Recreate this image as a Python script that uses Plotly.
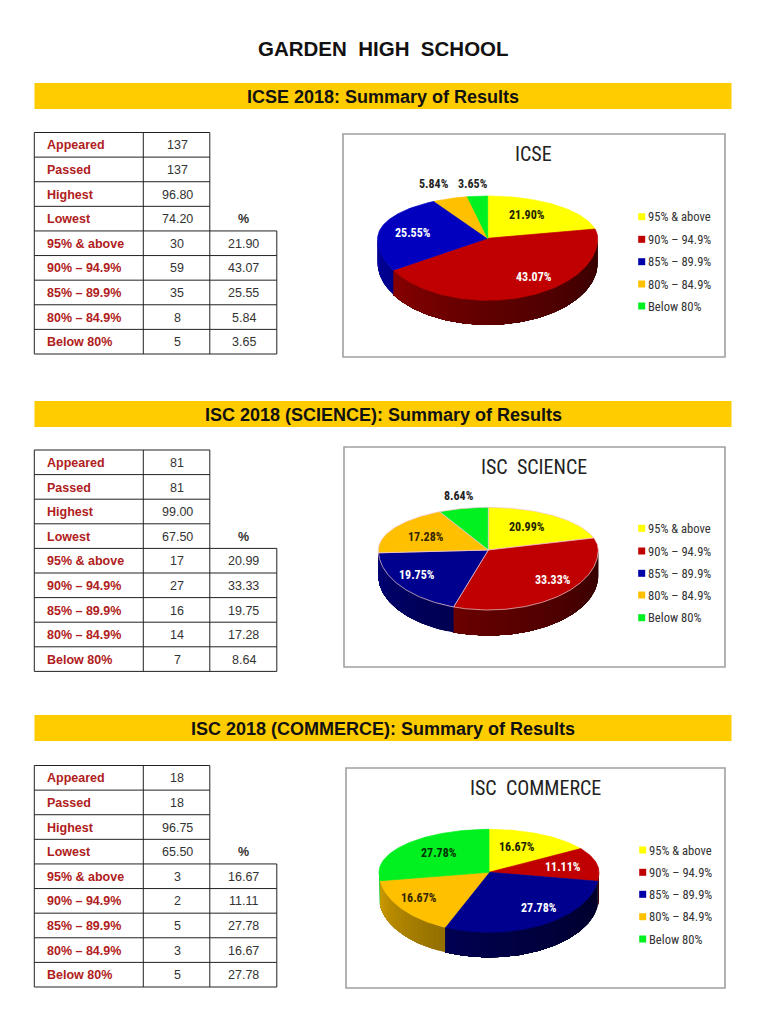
import numpy as np
import plotly.graph_objects as go

# ---------- data ----------
PAGE_TITLE = "GARDEN\u00a0\u00a0HIGH\u00a0\u00a0SCHOOL"
SUMMARY_LABELS = ["Appeared", "Passed", "Highest", "Lowest"]
BAND_LABELS = ["95% & above", "90% \u2013 94.9%", "85% \u2013 89.9%", "80% \u2013 84.9%", "Below 80%"]

ICSE_HEADER = "ICSE 2018: Summary of Results"
ICSE_TITLE = "ICSE"
ICSE_SUMMARY = ["137", "137", "96.80", "74.20"]
ICSE_COUNTS = [30, 59, 35, 8, 5]
ICSE_PCT = [21.90, 43.07, 25.55, 5.84, 3.65]

SCI_HEADER = "ISC 2018 (SCIENCE): Summary of Results"
SCI_TITLE = "ISC\u00a0\u00a0SCIENCE"
SCI_SUMMARY = ["81", "81", "99.00", "67.50"]
SCI_COUNTS = [17, 27, 16, 14, 7]
SCI_PCT = [20.99, 33.33, 19.75, 17.28, 8.64]

COM_HEADER = "ISC 2018 (COMMERCE): Summary of Results"
COM_TITLE = "ISC\u00a0\u00a0COMMERCE"
COM_SUMMARY = ["18", "18", "96.75", "65.50"]
COM_COUNTS = [3, 2, 5, 3, 5]
COM_PCT = [16.67, 11.11, 27.78, 16.67, 27.78]

# ---------- layout and style ----------
SECTIONS = [
    dict(header=ICSE_HEADER, title=ICSE_TITLE, summary=ICSE_SUMMARY, counts=ICSE_COUNTS, pct=ICSE_PCT,
         band=(83, 109), table=(132.5, 354), frame=(343, 134, 725, 357), title_xy=(533, 154),
         centre=(487.7, 238.3), ry=(42.3, 62), depth=24.5, blue="#0000BE", edge=None,
         legend_y=[216.7, 239.3, 261.7, 284, 306], legend_x=641.7,
         label_xy=[(527.3, 215.3), (534.3, 277), (413, 233), (434.3, 184.3), (473, 183.7)],
         label_col=["#222200", "#FFFFFF", "#FFFFFF", "#222222", "#222222"]),
    dict(header=SCI_HEADER, title=SCI_TITLE, summary=SCI_SUMMARY, counts=SCI_COUNTS, pct=SCI_PCT,
         band=(401, 427), table=(450, 671.4), frame=(344, 447, 725, 667), title_xy=(534.3, 466.7),
         centre=(488.3, 550), ry=(42.7, 60), depth=25.5, blue="#00008F", edge="#F0C8D0",
         legend_y=[528.3, 551, 573.3, 595, 617.7], legend_x=641.7,
         label_xy=[(526.7, 527.3), (553.3, 579.7), (417.3, 575.3), (425.7, 536.7), (459.3, 495.7)],
         label_col=["#222200", "#FFFFFF", "#FFFFFF", "#332600", "#222222"]),
    dict(header=COM_HEADER, title=COM_TITLE, summary=COM_SUMMARY, counts=COM_COUNTS, pct=COM_PCT,
         band=(715, 741), table=(765.5, 987), frame=(346, 768, 725, 988), title_xy=(535, 787.7),
         centre=(489, 872.3), ry=(43, 60), depth=25, blue="#00008F", edge=None,
         legend_y=[850, 872.3, 894.3, 916.7, 939], legend_x=642.7,
         label_xy=[(517.3, 846.7), (563, 867.3), (538.7, 908.3), (419.3, 898.3), (439.3, 852.7)],
         label_col=["#222200", "#FFFFFF", "#FFFFFF", "#332600", "#003300"]),
]
RX = 110
SLICE_COLOURS = ["#FFFF00", "#C00000", None, "#FFC000", "#00F020"]
LEGEND_COLOURS = ["#FFFF00", "#C00000", "#0000A8", "#FFC000", "#00F020"]
BAND_FILL = "#FFCC00"
LABEL_RED = "#B02020"
CELL_TEXT = "#333333"
GRID = "#222222"
SANS = "Liberation Sans"
NARROW = "Roboto Condensed, Liberation Sans"
COLS = [34.3, 143.3, 209.8, 276.8]

fig = go.Figure()
shapes, notes = [], []


def note(x, y, text, size, color="#222222", bold=False, family=SANS, anchor="center"):
    notes.append(dict(x=x, y=y, xref="x", yref="y", text=f"<b>{text}</b>" if bold else text,
                      showarrow=False, xanchor=anchor, yanchor="middle",
                      font=dict(family=family, size=size, color=color)))


def hline(x0, x1, y):
    shapes.append(dict(type="line", x0=x0, x1=x1, y0=y, y1=y, xref="x", yref="y", line=dict(color=GRID, width=1)))


def vline(x, y0, y1):
    shapes.append(dict(type="line", x0=x, x1=x, y0=y0, y1=y1, xref="x", yref="y", line=dict(color=GRID, width=1)))


def warp(deg):
    """Perspective: slices at the front of the tilted pie look larger than those at the back."""
    deg = np.asarray(deg, float)
    k = np.where(deg > 180, 5.5, -4.0)
    return deg + k * np.abs(np.sin(np.radians(2 * deg)))


def ellipse(deg, cx, cy, ry, drop=0.0):
    """Clockwise angle from the top of the pie, with a nearer (taller) front half."""
    t = np.radians(warp(deg))
    s, c = np.sin(t), np.cos(t)
    y = np.where(c < 0, -c * ry[1], -c * ry[0])
    return cx + RX * s, cy + y + drop


def shade(hex_colour, theta_deg):
    f = np.interp(theta_deg, [90, 180, 270], [0.26, 0.50, 0.85])
    rgb = [int(hex_colour[i:i + 2], 16) for i in (1, 3, 5)]
    return "#%02X%02X%02X" % tuple(int(v * f) for v in rgb)


def draw_pie(sec):
    cx, cy = sec["centre"]
    ry = sec["ry"]
    counts = np.array(sec["counts"], float)
    edges = np.concatenate([[0], np.cumsum(counts) / counts.sum() * 360])
    colours = [c or sec["blue"] for c in SLICE_COLOURS]
    # side wall: each band runs to the slice end and is painted over the last, so it lightens without seams
    for i, col in enumerate(colours):
        a0, a1 = max(edges[i], 88), min(edges[i + 1], 272)
        if a1 <= a0:
            continue
        n = max(int((a1 - a0) / 3), 1)
        steps = np.linspace(a0, a1, n + 1)
        for s0, s1 in zip(steps[:-1], steps[1:]):
            t = np.linspace(s0, a1, max(int(a1 - s0), 2) + 1)
            xt, yt = ellipse(t, cx, cy, ry)
            xb, yb = ellipse(t, cx, cy, ry, sec["depth"])
            c = shade(col, (s0 + s1) / 2)
            fig.add_trace(go.Scatter(x=np.r_[xt, xb[::-1]], y=np.r_[yt, yb[::-1]], mode="lines", fill="toself",
                                     fillcolor=c, line=dict(color=c, width=0), hoverinfo="skip", showlegend=False))
    # top face
    for i, col in enumerate(colours):
        t = np.linspace(edges[i], edges[i + 1], max(int(edges[i + 1] - edges[i]), 2) + 1)
        xa, ya = ellipse(t, cx, cy, ry)
        line = sec["edge"] or col
        fig.add_trace(go.Scatter(x=np.r_[cx, xa, cx], y=np.r_[cy, ya, cy], mode="lines", fill="toself",
                                 fillcolor=col, line=dict(color=line, width=0.7), hoverinfo="text",
                                 text=BAND_LABELS[i], showlegend=False))
    for (x, y), p, c in zip(sec["label_xy"], sec["pct"], sec["label_col"]):
        note(x, y, f"{p:.2f}%", 12, c, True, NARROW)


def draw_table(sec):
    top, bottom = sec["table"]
    h = (bottom - top) / 9
    ys = [top + h * i for i in range(10)]
    for i, y in enumerate(ys):
        hline(COLS[0], COLS[3] if i >= 4 else COLS[2], y)
    for x in COLS[:3]:
        vline(x, top, bottom)
    vline(COLS[3], ys[4], bottom)
    for i, (lab, val) in enumerate(zip(SUMMARY_LABELS, sec["summary"])):
        y = ys[i] + h / 2 + 0.6
        note(45, y, lab, 12.5, LABEL_RED, True, anchor="left")
        note(177, y, val, 12.5, CELL_TEXT)
    note(243.5, ys[3] + h / 2 + 0.6, "%", 12.5, CELL_TEXT, True)
    for i, (lab, n, p) in enumerate(zip(BAND_LABELS, sec["counts"], sec["pct"])):
        y = ys[i + 4] + h / 2 + 0.6
        note(45, y, lab, 12.5, LABEL_RED, True, anchor="left")
        note(177, y, str(n), 12.5, CELL_TEXT)
        note(243.5, y, f"{p:.2f}", 12.5, CELL_TEXT)


for sec in SECTIONS:
    b0, b1 = sec["band"]
    shapes.append(dict(type="rect", x0=34.5, x1=731.5, y0=b0, y1=b1, xref="x", yref="y",
                       fillcolor=BAND_FILL, line=dict(width=0), layer="below"))
    note(383, (b0 + b1) / 2 + 0.7, sec["header"], 18, "#111111", True)
    x0, y0, x1, y1 = sec["frame"]
    shapes.append(dict(type="rect", x0=x0, x1=x1, y0=y0, y1=y1, xref="x", yref="y",
                       fillcolor="#FFFFFF", line=dict(color="#A0A0A0", width=1.6), layer="below"))
    note(*sec["title_xy"], sec["title"], 20, "#222222", False, NARROW)
    draw_table(sec)
    draw_pie(sec)
    fig.add_trace(go.Scatter(x=[sec["legend_x"]] * 5, y=sec["legend_y"], mode="markers",
                             marker=dict(symbol="square", size=7, color=LEGEND_COLOURS),
                             hoverinfo="skip", showlegend=False))
    for y, lab in zip(sec["legend_y"], BAND_LABELS):
        note(sec["legend_x"] + 4.5, y, lab, 12.6, "#333333", False, NARROW, "left")

note(383.5, 48.5, PAGE_TITLE, 20.5, "#111111", True)

fig.update_layout(
    width=768, height=1024, margin=dict(l=0, r=0, t=0, b=0),
    paper_bgcolor="#FFFFFF", plot_bgcolor="#FFFFFF", showlegend=False,
    xaxis=dict(range=[0, 768], visible=False, fixedrange=True),
    yaxis=dict(range=[1024, 0], visible=False, fixedrange=True),
    shapes=shapes, annotations=notes,
)
fig.write_html("out.html", config=dict(displayModeBar=False),
               post_script="document.body.style.margin='0';document.body.style.overflow='hidden';")
